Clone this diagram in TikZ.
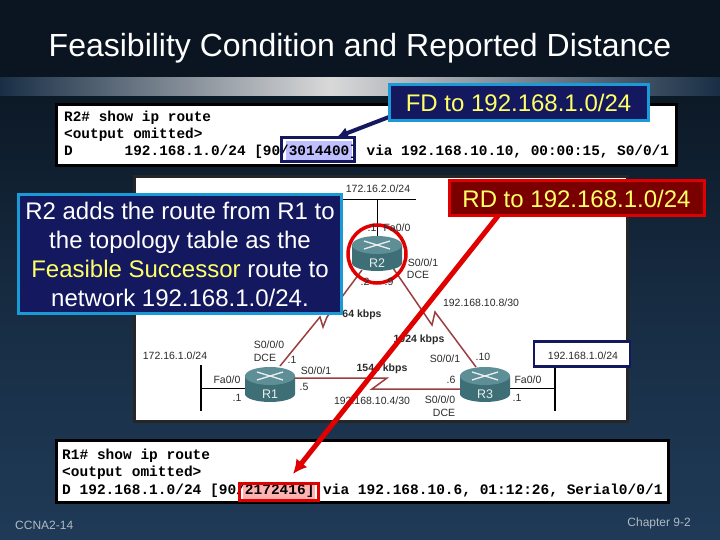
\documentclass[tikz,border=0pt]{standalone}
\usepackage{fontspec}
\setmainfont{Liberation Sans}
\setmonofont{Liberation Mono}
\usetikzlibrary{arrows.meta}
\definecolor{slidetop}{HTML}{0A1521}
\definecolor{slidelow}{HTML}{1F3A57}
\definecolor{navybox}{HTML}{14185E}
\definecolor{bluerim}{HTML}{1A9BD7}
\definecolor{redbox}{HTML}{7A0000}
\definecolor{redrim}{HTML}{E00000}
\definecolor{notetext}{HTML}{FFFF66}
\definecolor{serialred}{HTML}{9A3F3F}
\definecolor{labeltext}{HTML}{2A2A2A}
\definecolor{routertop}{HTML}{5F8F96}
\definecolor{routerlow}{HTML}{3F6F76}
\tikzset{
	x=1pt, y=-1pt,
	panel/.style={draw=black, line width=3pt, fill=white, anchor=north west, inner sep=0pt},
	cli/.style={anchor=west, align=left, inner sep=0pt, font=\fontsize{14.4}{17}\selectfont\ttfamily\bfseries},
	notebox/.style={draw=bluerim, line width=3pt, fill=navybox, text=white, align=center, inner sep=0pt, font=\fontsize{24}{29}\selectfont},
	rdbox/.style={notebox, draw=redrim, fill=redbox, text=notetext},
	lbl/.style={text=labeltext, inner sep=0pt, font=\fontsize{10.5}{12}\selectfont},
	speed/.style={lbl, font=\fontsize{10.5}{12}\selectfont\bfseries},
	foot/.style={text=white!65!slidelow, inner sep=0pt, font=\fontsize{12}{14}\selectfont},
	lanline/.style={draw=black, line width=0.9pt},
	lanbar/.style={draw=black, line width=2pt},
	seriallink/.style={draw=serialred, line width=1.5pt},
}
\newcommand{\routernode}[4]{
	\fill[routerlow] (#2-25,#3-9) -- (#2-25,#3+9) arc[start angle=180,end angle=0,x radius=25,y radius=8] -- (#2+25,#3-9) -- cycle;
	\fill[routertop] (#2,#3-9) ellipse[x radius=25,y radius=9];
	\draw[white!85!routertop, line width=1.3pt] (#2-13,#3-13) -- (#2+13,#3-5) (#2-13,#3-5) -- (#2+13,#3-13);
	\node[minimum width=50pt, minimum height=36pt, inner sep=0pt] (#1) at (#2,#3) {};
	\node[text=white!85!routertop, inner sep=0pt, font=\fontsize{12.5}{14}\selectfont] at (#2,#3+9) {#4};
}

\begin{document}
\begin{tikzpicture}
	\useasboundingbox (0,0) rectangle (720,540);
	% slide
	\fill[slidetop] (0,0) rectangle (720,78);
	\fill[top color=slidetop!90!slidelow, bottom color=slidelow, middle color=slidetop!35!slidelow] (0,96) rectangle (720,540);
	\fill[left color=slidelow!80!black, right color=gray!30!white] (0,78) rectangle (330,96);
	\fill[left color=gray!30!white, right color=slidelow!80!black] (330,78) rectangle (720,96);
	\node[text=white, inner sep=0pt, font=\fontsize{32}{36}\selectfont] (title) at (360,48) {Feasibility Condition and Reported Distance};
	\node[foot, anchor=west] (ccna) at (15,525) {CCNA2-14};
	\node[foot, anchor=east] (chapter) at (691,523) {Chapter 9-2};

	% routing tables
	\node[panel, minimum width=620pt, minimum height=61pt] (r2table) at (55,103) {};
	\node[panel, minimum width=612pt, minimum height=62pt] (r1table) at (55,439) {};
	\node[fill=blue!25!white, minimum width=66pt, minimum height=19pt, inner sep=0pt] (fdfill) at (319,151) {};
	\node[fill=red!30!white, minimum width=72pt, minimum height=16pt, inner sep=0pt] (rdfill) at (279,491.5) {};
	\node[cli] (r2text) at (64,135) {R2\# show ip route\\<output omitted>\\D~~~~~~192.168.1.0/24 [90/3014400] via 192.168.10.10, 00:00:15, S0/0/1};
	\node[cli, font=\fontsize{14.5}{17.5}\selectfont\ttfamily\bfseries] (r1text) at (62,473) {R1\# show ip route\\<output omitted>\\D 192.168.1.0/24 [90/2172416] via 192.168.10.6, 01:12:26, Serial0/0/1};
	\node[draw=navybox, line width=3pt, minimum width=73pt, minimum height=24pt, inner sep=0pt] (fdmark) at (318,149.5) {};
	\node[draw=redrim, line width=3pt, minimum width=79pt, minimum height=17pt, inner sep=0pt] (rdmark) at (279,491.5) {};

	% topology
	\node[panel, draw=black!85, minimum width=493pt, minimum height=245pt] (topo) at (133,175) {};
	\coordinate (lanR2w) at (343,199);
	\coordinate (lanR2e) at (416,199);
	\coordinate (lanR2) at (377,199);
	\coordinate (lanR1n) at (201,365);
	\coordinate (lanR1s) at (201,411);
	\coordinate (lanR1) at (201,388);
	\coordinate (lanR3n) at (555,367);
	\coordinate (lanR3s) at (555,411);
	\coordinate (lanR3) at (555,388);
	\coordinate (sA1) at (280,366);
	\coordinate (sA2) at (320,317);
	\coordinate (sA3) at (323,327);
	\coordinate (sA4) at (327,317);
	\coordinate (sA5) at (362,270);
	\coordinate (sB1) at (393,268);
	\coordinate (sB2) at (432,325);
	\coordinate (sB3) at (435,312);
	\coordinate (sB4) at (476,367);
	\coordinate (sC1) at (295,378);
	\coordinate (sC2) at (387,378);
	\coordinate (sC3) at (372,389);
	\coordinate (sC4) at (460,389);
	\draw[lanline] (lanR2w) -- (lanR2e);
	\draw[lanline] (lanR2) -- (377,236);
	\draw[lanbar] (lanR1n) -- (lanR1s);
	\draw[lanbar] (lanR3n) -- (lanR3s);
	\draw[seriallink] (sA1) -- (sA2) -- (sA3) -- (sA4) -- (sA5);
	\draw[seriallink] (sB1) -- (sB2) -- (sB3) -- (sB4);
	\draw[seriallink] (sC1) -- (sC2) -- (sC3) -- (sC4);
	\routernode{R2}{377}{254}{R2}
	\routernode{R1}{270}{385}{R1}
	\routernode{R3}{485}{385}{R3}
	\draw[lanline] (lanR1) -- (R1.west |- lanR1);
	\draw[lanline] (lanR3) -- (R3.east |- lanR3);
	\node[draw=redrim, line width=3.5pt, circle, minimum size=58pt, inner sep=0pt] (r2ring) at (R2) {};
	\node[draw=navybox, line width=2.5pt, fill=white, minimum width=96pt, minimum height=25pt, inner sep=0pt] (lanbox) at (582,354) {};

	\node[lbl] (lA) at (378,189) {172.16.2.0/24};
	\node[lbl] (lB) at (372,228) {.1};
	\node[lbl] (lC) at (397,228) {Fa0/0};
	\node[lbl] (lD) at (423,263) {S0/0/1};
	\node[lbl] (lE) at (418,275) {DCE};
	\node[lbl] (lF) at (365,282) {.2};
	\node[lbl] (lG) at (389,282) {.9};
	\node[lbl] (lH) at (481,303) {192.168.10.8/30};
	\node[speed] (lI) at (362,315) {64 kbps};
	\node[speed] (lJ) at (419,340) {1024 kbps};
	\node[lbl] (lK) at (445,359) {S0/0/1};
	\node[lbl] (lL) at (483,357) {.10};
	\node[lbl] (lM) at (451,380) {.6};
	\node[lbl] (lN) at (440,400) {S0/0/0};
	\node[lbl] (lO) at (444,413) {DCE};
	\node[lbl] (lP) at (528,380) {Fa0/0};
	\node[lbl] (lQ) at (517,398) {.1};
	\node[lbl] (lR) at (583,356) {192.168.1.0/24};
	\node[speed] (lS) at (382,369) {1544 kbps};
	\node[lbl] (lT) at (372,401) {192.168.10.4/30};
	\node[lbl] (lU) at (269,345) {S0/0/0};
	\node[lbl] (lV) at (265,358) {DCE};
	\node[lbl] (lW) at (292,360) {.1};
	\node[lbl] (lX) at (316,371) {S0/0/1};
	\node[lbl] (lY) at (304,387) {.5};
	\node[lbl] (lZ) at (175,356) {172.16.1.0/24};
	\node[lbl] (lAa) at (227,380) {Fa0/0};
	\node[lbl] (lAb) at (237,398) {.1};

	% notes and arrows
	\coordinate (rdstart) at (498,216);
	\coordinate (rdtip) at (293,474);
	\coordinate (fdstart) at (389,117);
	\coordinate (fdtip) at (337,137);
	\draw[-{Latex[length=14pt,width=14pt]}, draw=redrim, line width=5pt] (rdstart) -- (rdtip);
	\draw[-{Latex[length=11pt,width=12pt]}, draw=navybox, line width=4pt] (fdstart) -- (fdtip);
	\node[rdbox, minimum width=255pt, minimum height=35pt] (rdnote) at (576.5,198.5) {RD to 192.168.1.0/24};
	\node[notebox, text=notetext, minimum width=259pt, minimum height=36pt] (fdnote) at (518.5,103) {FD to 192.168.1.0/24};
	\node[notebox, minimum width=323pt, minimum height=119pt] (addnote) at (180,254) {R2 adds the route from R1 to\\the topology table as the\\\textcolor{notetext}{Feasible Successor} route to\\network 192.168.1.0/24.};
\end{tikzpicture}
\end{document}
